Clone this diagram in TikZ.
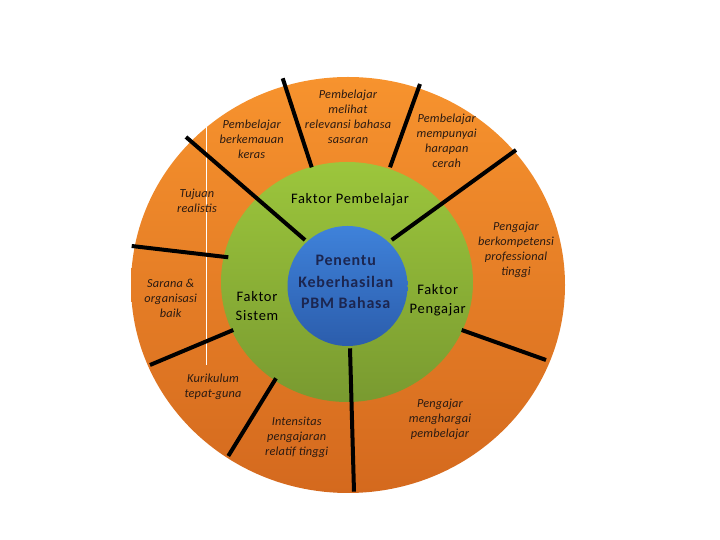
\documentclass[tikz,border=0pt]{standalone}
\usepackage{fontspec}
\setmainfont{Carlito}
\newfontfamily\spacedfont[LetterSpace=5]{Carlito}
\newfontfamily\segfont[LetterSpace=1.5]{Carlito}
\usepackage{tikz}
\definecolor{orangetop}{HTML}{F7932E}
\definecolor{orangebot}{HTML}{D4691E}
\definecolor{greentop}{HTML}{9CC63C}
\definecolor{greenbot}{HTML}{799A30}
\definecolor{bluetop}{HTML}{3F82DA}
\definecolor{bluebot}{HTML}{2B5DAC}
\definecolor{navytext}{HTML}{1C2650}
\definecolor{segtext}{HTML}{2A1A12}
\newcommand{\seg}[2]{node[segment] (#1) {#2}}

\begin{document}
\begin{tikzpicture}[x=1pt, y=1pt,
    segment/.style={align=center, text=segtext, font=\segfont\itshape\fontsize{12.3}{15}\selectfont, inner sep=0pt},
    faktor/.style={align=center, text=black, font=\spacedfont\fontsize{14.5}{19}\selectfont, inner sep=0pt},
    spoke/.style={line width=4pt}]
    \useasboundingbox (0,0) rectangle (720,540);
    % rings
    \shade[top color=orangetop, bottom color=orangebot] (348,255) ellipse [x radius=217, y radius=208];
    \draw[white, line width=1pt] (206,415) -- (206,175);
    \shade[top color=greentop, bottom color=greenbot] (347,258) ellipse [x radius=126, y radius=120];
    \shade[top color=bluetop, bottom color=bluebot] (347.5,254) circle (60);
    % spoke ends
    \coordinate (o1) at (186,403);   \coordinate (i1) at (305,300);
    \coordinate (o2) at (282.7,461.7); \coordinate (i2) at (311.7,372.7);
    \coordinate (o3) at (420,456);   \coordinate (i3) at (390,372.7);
    \coordinate (o4) at (516,390);   \coordinate (i4) at (391.7,300);
    \coordinate (o5) at (546,180);   \coordinate (i5) at (461.7,210);
    \coordinate (o6) at (354,48.3);  \coordinate (i6) at (350,191.7);
    \coordinate (o7) at (228.3,84);  \coordinate (i7) at (276,161.7);
    \coordinate (o8) at (150,175);   \coordinate (i8) at (233.3,210);
    \coordinate (o9) at (131.7,294); \coordinate (i9) at (228.3,282.7);
    \foreach \k in {1,...,9}
      \draw[spoke] (i\k) -- (o\k);
    % outer labels
    \path (251.7,401) \seg{keras}{Pembelajar\\berkemauan\\keras};
    \path (348,423) \seg{sasaran}{Pembelajar\\melihat\\relevansi bahasa\\sasaran};
    \path (446.7,399) \seg{cerah}{Pembelajar\\mempunyai\\harapan\\cerah};
    \path (197,339) \seg{tujuan}{Tujuan\\realistis};
    \path (170.7,242) \seg{sarana}{Sarana \&\\organisasi\\baik};
    \path (516,290) \seg{kompeten}{Pengajar\\berkompetensi\\professional\\tinggi};
    \path (213,153) \seg{kurikulum}{Kurikulum\\tepat-guna};
    \path (296.7,103) \seg{intensitas}{Intensitas\\pengajaran\\relatif tinggi};
    \path (440,121) \seg{menghargai}{Pengajar\\menghargai\\pembelajar};
    % inner labels
    \node[faktor] (sistem) at (257,234) {Faktor\\Sistem};
    \node[faktor] (pembelajar) at (350,340) {Faktor Pembelajar};
    \node[faktor] (pengajar) at (437.7,240) {Faktor\\Pengajar};
    \node[align=center, text=navytext, font=\spacedfont\bfseries\fontsize{16}{21.5}\selectfont, inner sep=0pt] (penentu) at (345.7,258) {Penentu\\Keberhasilan\\PBM Bahasa};
\end{tikzpicture}
\end{document}
